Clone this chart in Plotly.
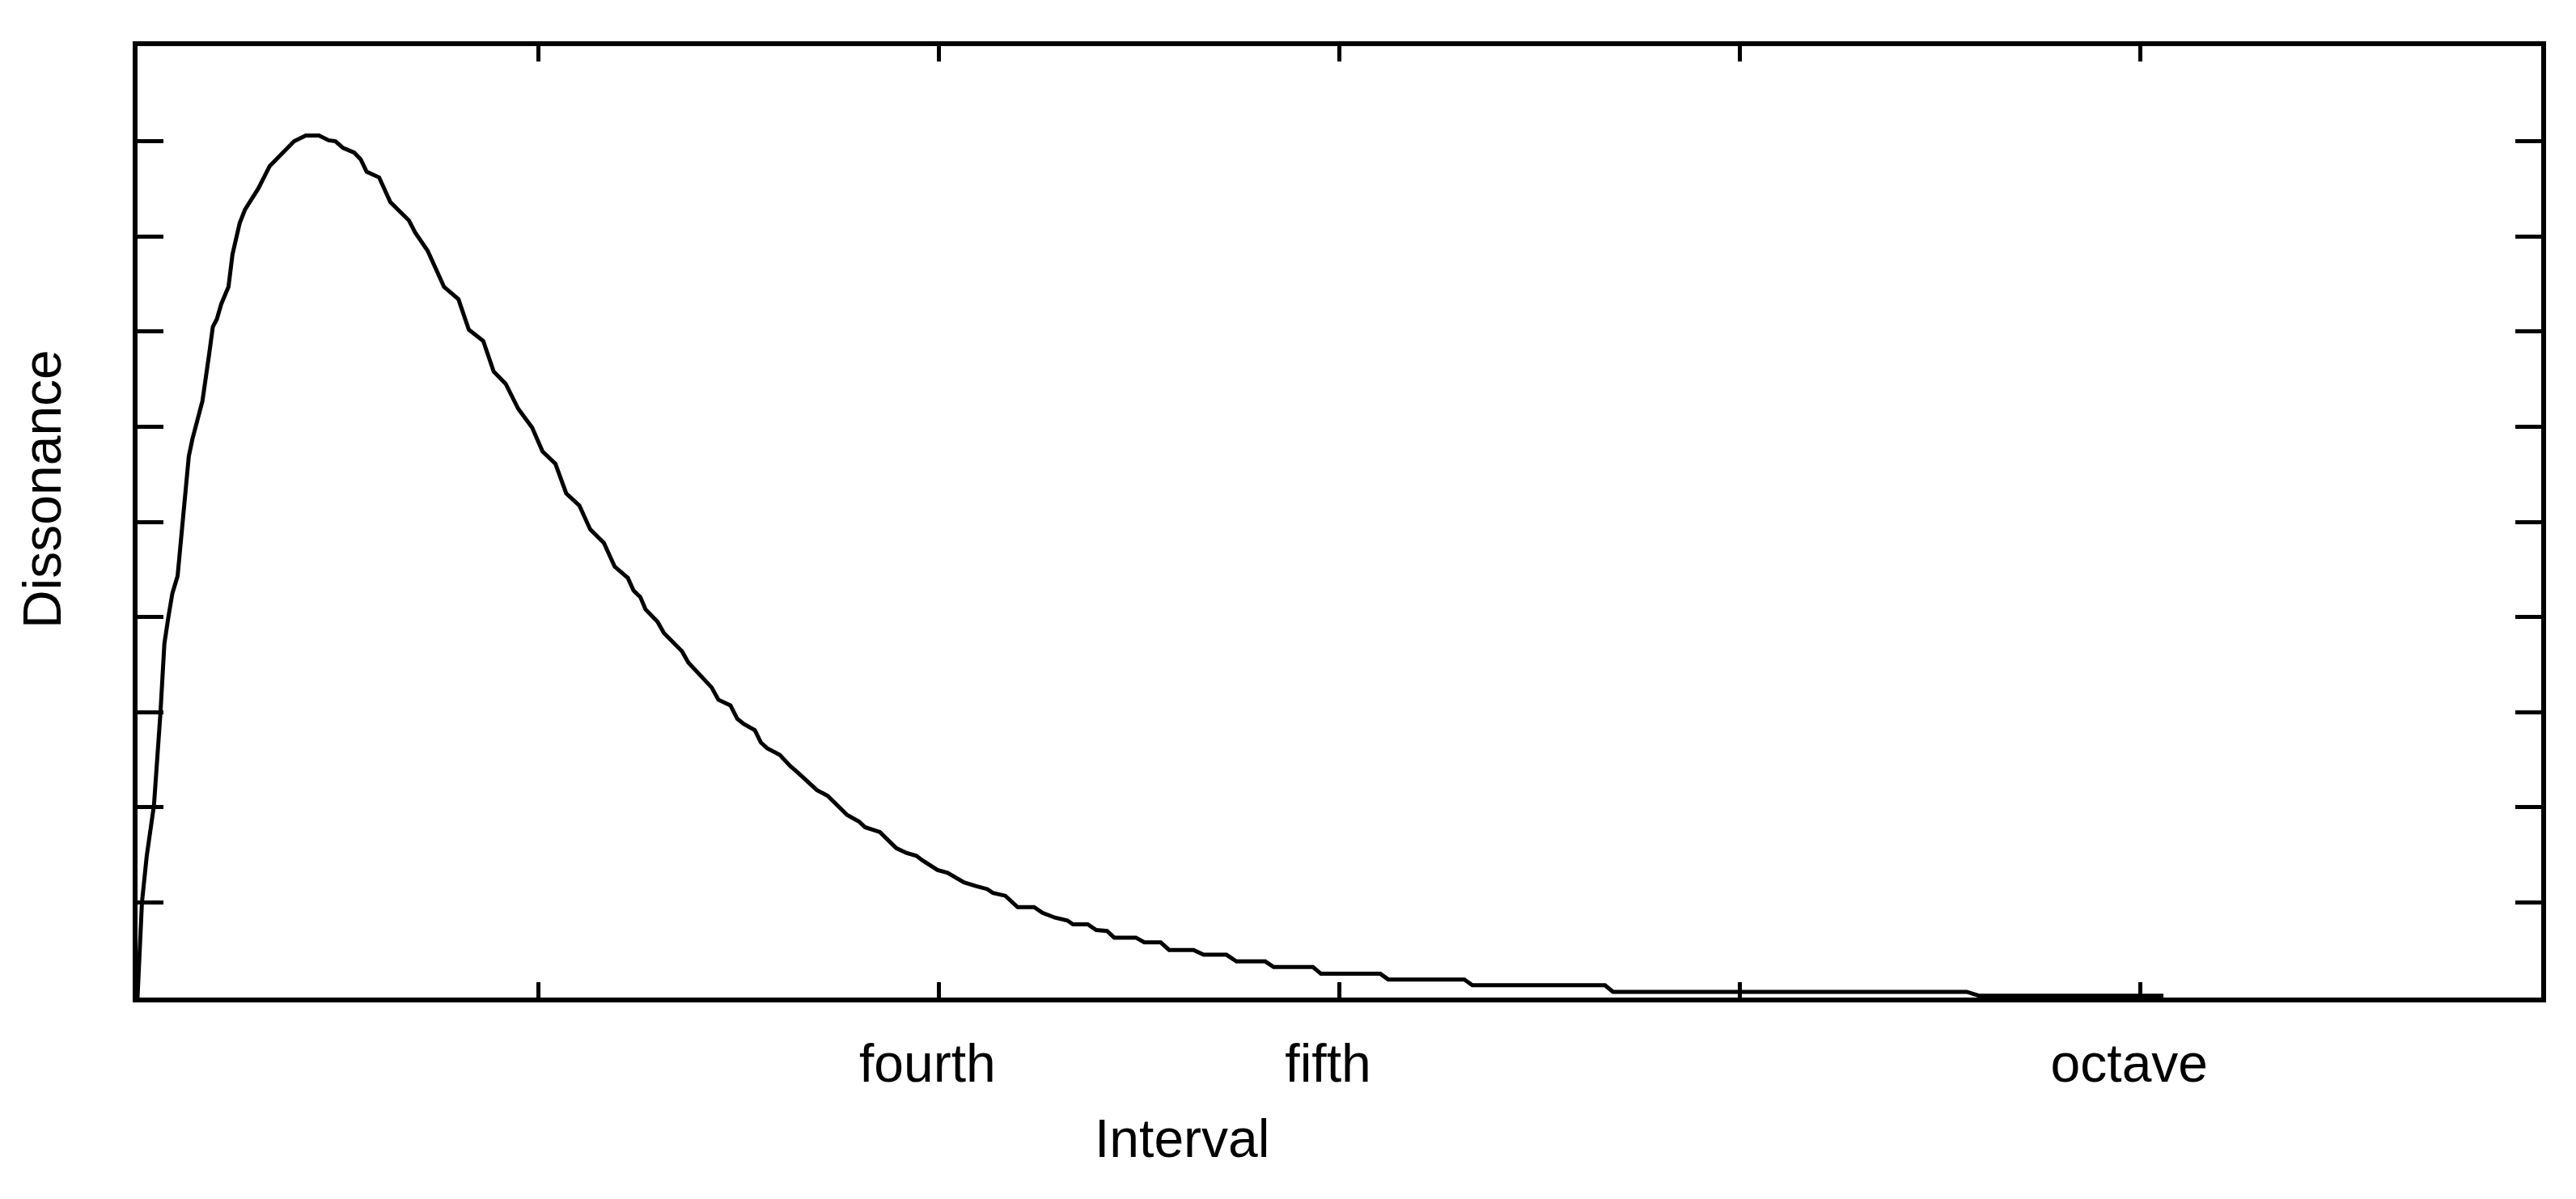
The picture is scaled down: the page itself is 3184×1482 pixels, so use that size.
import plotly.graph_objects as go

# dissonance curve (x in tick units, y in tick units)
interval = [
    0.000, 0.005, 0.011, 0.023, 0.041, 0.057, 0.067, 0.077, 0.087, 0.100,
    0.110, 0.120, 0.128, 0.137, 0.152, 0.162, 0.178, 0.188, 0.198, 0.209,
    0.227, 0.237, 0.255, 0.268, 0.286, 0.301, 0.330, 0.361, 0.391, 0.420,
    0.453, 0.477, 0.494, 0.513, 0.541, 0.557, 0.572, 0.603, 0.631, 0.677,
    0.693, 0.724, 0.765, 0.801, 0.827, 0.863, 0.889, 0.919, 0.950, 0.985,
    1.011, 1.043, 1.056, 1.070, 1.103, 1.130, 1.164, 1.191, 1.224, 1.238,
    1.255, 1.268, 1.298, 1.314, 1.359, 1.375, 1.433, 1.450, 1.480, 1.497,
    1.512, 1.541, 1.556, 1.572, 1.603, 1.630, 1.647, 1.696, 1.723, 1.771,
    1.801, 1.816, 1.853, 1.894, 1.919, 1.944, 1.960, 1.997, 2.022, 2.063,
    2.094, 2.121, 2.135, 2.166, 2.197, 2.238, 2.259, 2.290, 2.321, 2.335,
    2.372, 2.393, 2.420, 2.438, 2.492, 2.513, 2.554, 2.575, 2.636, 2.661,
    2.718, 2.743, 2.815, 2.836, 2.934, 2.954, 3.102, 3.122, 3.312, 3.332,
    3.663, 3.683, 4.566, 4.596, 5.057,
]
dissonance = [
    0.00, 0.50, 1.00, 1.49, 2.02, 2.98, 3.72, 4.00, 4.25, 4.43,
    4.88, 5.33, 5.69, 5.87, 6.12, 6.27, 6.74, 7.05, 7.13, 7.29,
    7.47, 7.81, 8.14, 8.28, 8.40, 8.50, 8.74, 8.87, 9.00, 9.06,
    9.06, 9.01, 9.00, 8.93, 8.88, 8.81, 8.68, 8.62, 8.36, 8.17,
    8.04, 7.85, 7.47, 7.34, 7.02, 6.90, 6.58, 6.45, 6.19, 5.99,
    5.74, 5.61, 5.47, 5.30, 5.17, 4.92, 4.78, 4.53, 4.41, 4.28,
    4.21, 4.08, 3.95, 3.83, 3.64, 3.52, 3.26, 3.13, 3.07, 2.93,
    2.88, 2.81, 2.68, 2.62, 2.55, 2.43, 2.37, 2.18, 2.12, 1.92,
    1.85, 1.79, 1.74, 1.57, 1.52, 1.49, 1.44, 1.34, 1.31, 1.21,
    1.17, 1.14, 1.10, 1.07, 0.95, 0.95, 0.89, 0.84, 0.81, 0.77,
    0.77, 0.71, 0.70, 0.63, 0.63, 0.58, 0.58, 0.50, 0.50, 0.45,
    0.45, 0.38, 0.38, 0.32, 0.32, 0.25, 0.25, 0.19, 0.19, 0.13,
    0.13, 0.06, 0.06, 0.02, 0.02,
]

x_tickvals = [1, 2, 3, 4, 5]
x_ticktext = ["", "fourth", "fifth", "", "octave"]
y_tickvals = [1, 2, 3, 4, 5, 6, 7, 8, 9]

font = dict(family="Liberation Sans, Arial, Helvetica, sans-serif", size=66, color="black")

fig = go.Figure()
fig.add_trace(go.Scatter(
    x=interval, y=dissonance, mode="lines",
    line=dict(color="black", width=5), showlegend=False,
))

fig.update_layout(
    width=3184, height=1482,
    margin=dict(l=162, r=51, t=49, b=257, autoexpand=False),
    paper_bgcolor="white", plot_bgcolor="white",
    font=font,
)
fig.update_xaxes(
    range=[0, 6], showgrid=False, zeroline=False,
    showline=True, linecolor="black", linewidth=5.5, mirror="ticks",
    ticks="inside", ticklen=19, tickwidth=4.5, tickcolor="black",
    tickvals=x_tickvals, ticktext=x_ticktext, tickfont=font,
    ticklabelstandoff=19, ticklabelshift=-14,
)
fig.update_yaxes(
    range=[0, 10], showgrid=False, zeroline=False,
    showline=True, linecolor="black", linewidth=5.5, mirror="ticks",
    ticks="inside", ticklen=32, tickwidth=5, tickcolor="black",
    tickvals=y_tickvals, showticklabels=False,
)

fig.add_annotation(text="Interval", xref="paper", yref="paper",
                   x=0.4346, y=-0.148, xanchor="center", yanchor="middle",
                   showarrow=False, font=font)
fig.add_annotation(text="Dissonance", xref="paper", yref="paper",
                   x=-0.0397, y=0.534, xanchor="center", yanchor="middle",
                   textangle=-90, showarrow=False, font=font)

fig.write_html("out.html")
